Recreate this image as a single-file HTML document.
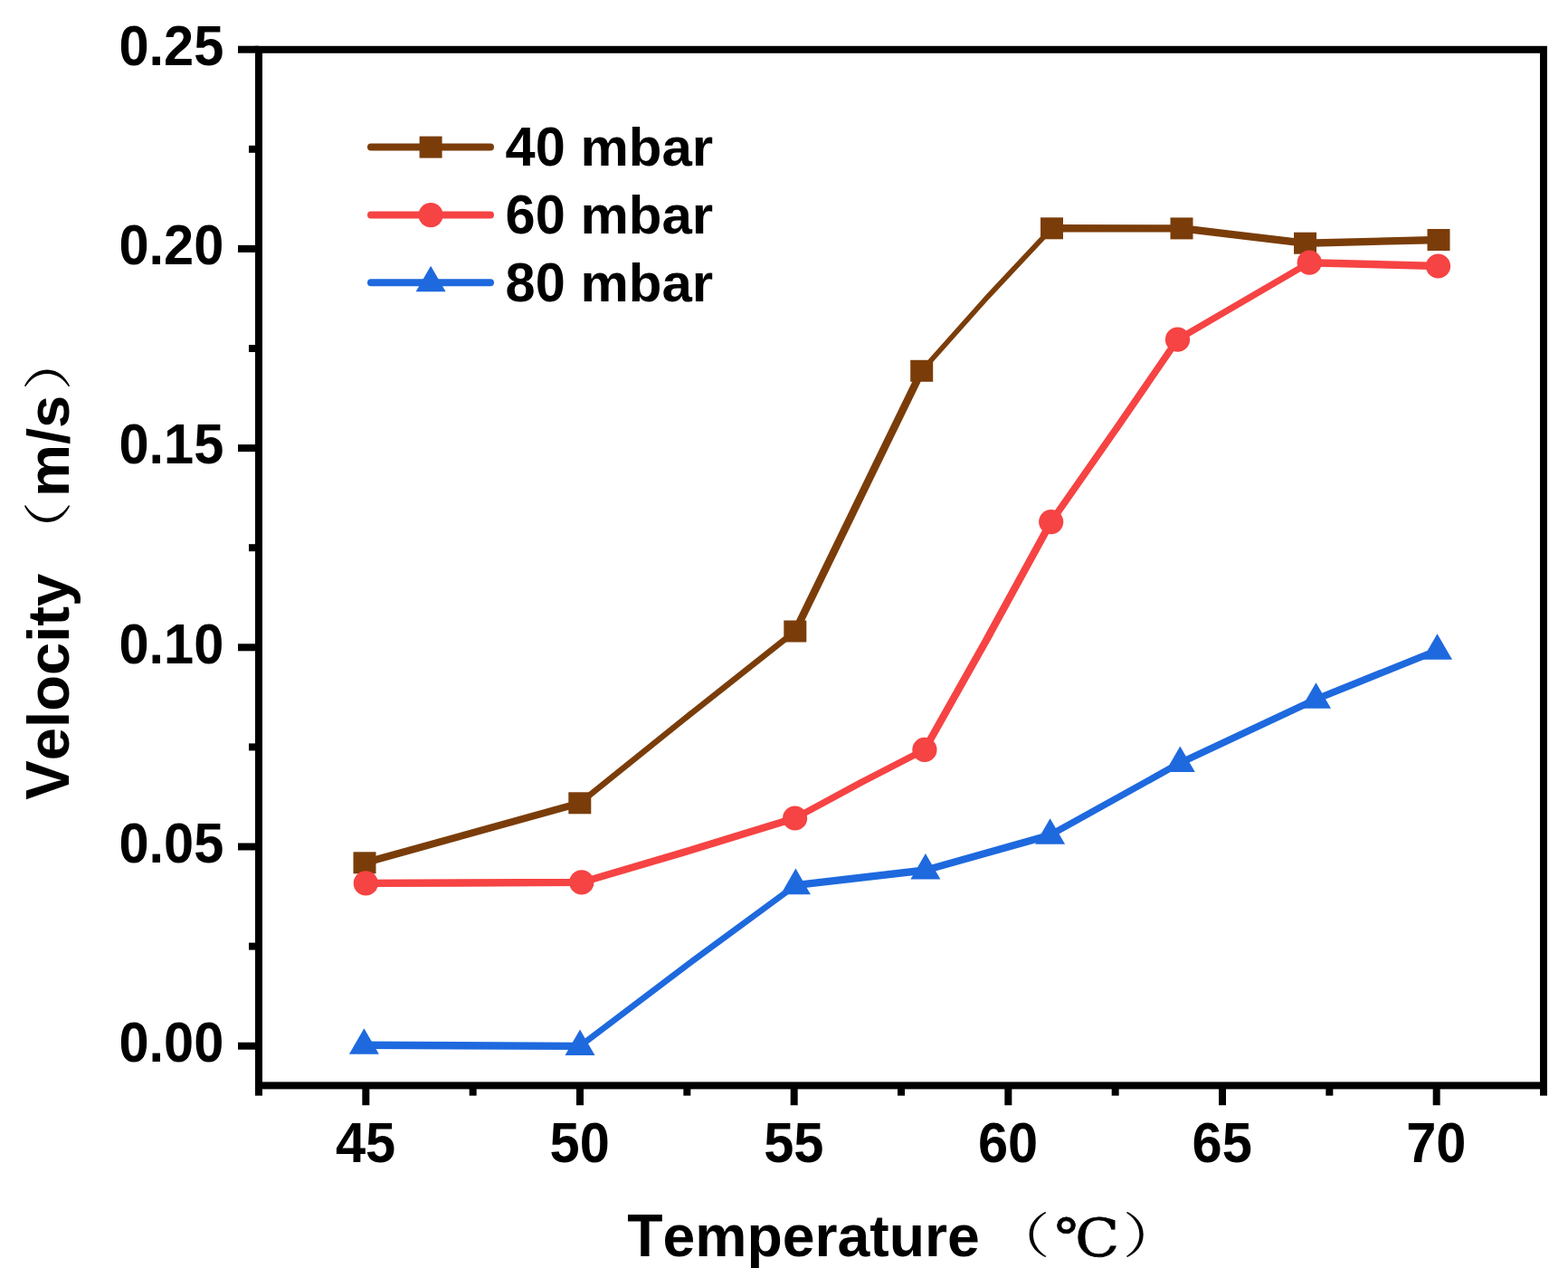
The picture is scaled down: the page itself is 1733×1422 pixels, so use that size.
<!DOCTYPE html>
<html lang="en">
<head>
<meta charset="utf-8">
<title>Velocity vs Temperature</title>
<style>
html,body{margin:0;padding:0;background:#fff;}
body{width:1733px;height:1422px;overflow:hidden;}
svg{display:block;}
text{font-family:"Liberation Sans",sans-serif;font-weight:bold;fill:#000;white-space:pre;}
.cjk{font-family:"Noto Serif CJK SC",serif;font-weight:400;}
.deg{font-family:"DejaVu Serif",serif;font-weight:400;stroke:#000;stroke-width:0.8px;}
</style>
</head>
<body>
<svg width="1733" height="1422" viewBox="0 0 1733 1422">
<rect x="0" y="0" width="1733" height="1422" fill="#ffffff"/>
<path fill="#7A3D0A" fill-rule="nonzero" d="M402.33 949.29 L641.47 882.91 L641.47 891.31 L402.33 957.69Z M640.25 883.54 L760.35 786.96 L760.35 795.36 L640.25 891.94Z M759.25 787.83 L879.35 692.87 L879.35 701.27 L759.25 796.23Z M873.79 698.13 L1014.31 409.17 L1023.71 409.17 L883.19 698.13Z M1018.23 406.12 L1091.07 324.33 L1091.07 332.73 L1018.23 414.52Z M1090.12 325.36 L1162.98 247.59 L1162.98 255.99 L1090.12 333.76Z M1161.8 248.1 L1306.7 248.2 L1306.7 256.6 L1161.8 256.5Z M1305.3 248.12 L1443.2 264.58 L1443.2 272.98 L1305.3 256.52Z M1441.8 264.52 L1590.7 260.78 L1590.7 269.18 L1441.8 272.92Z"/>
<path fill="#F64343" fill-rule="nonzero" d="M403.6 971.7 L643.5 970.7 L643.5 979.1 L403.6 980.1Z M642.13 970.9 L761.37 935.75 L761.37 944.15 L642.13 979.3Z M760.03 936.16 L879.27 899.59 L879.27 907.99 L760.03 944.56Z M877.98 900.13 L950.87 860.77 L950.87 869.17 L877.98 908.53Z M949.63 861.42 L1022.52 823.88 L1022.52 832.28 L949.63 869.82Z M1016.86 829.01 L1088.44 701.89 L1097.84 701.89 L1026.26 829.01Z M1087.76 703.11 L1157.34 575.99 L1166.74 575.99 L1097.16 703.11Z M1156.6 577.17 L1227.9 475.33 L1237.3 475.33 L1166 577.17Z M1227.1 476.48 L1297.2 374.62 L1306.6 374.62 L1236.5 476.48Z M1300.9 371.35 L1447.8 285.65 L1447.8 294.05 L1300.9 379.75Z M1446.5 285.98 L1590.2 289.82 L1590.2 298.22 L1446.5 294.38Z"/>
<path fill="#1E69DE" fill-rule="nonzero" d="M401.7 1150.5 L641.7 1151.7 L641.7 1160.1 L401.7 1158.9Z M640.44 1152.12 L760.76 1061.03 L760.76 1069.43 L640.44 1160.52Z M759.64 1061.86 L879.96 973.39 L879.96 981.79 L759.64 1070.26Z M878.7 973.88 L1023.6 957.12 L1023.6 965.52 L878.7 982.28Z M1022.23 957.39 L1161.27 918.31 L1161.27 926.71 L1022.23 965.79Z M1159.99 918.84 L1304.91 838.36 L1304.91 846.76 L1159.99 927.24Z M1303.67 839 L1455.13 768.1 L1455.13 776.5 L1303.67 847.4Z M1453.85 768.66 L1589.15 714.14 L1589.15 722.54 L1453.85 777.06Z"/>
<g>
<rect x="390.5" y="941.3" width="25" height="24" fill="#7A3D0A"/>
<rect x="628.3" y="875.3" width="25" height="24" fill="#7A3D0A"/>
<rect x="866.3" y="685.5" width="25" height="24" fill="#7A3D0A"/>
<rect x="1006.2" y="397.8" width="25" height="24" fill="#7A3D0A"/>
<rect x="1150" y="240.3" width="25" height="24" fill="#7A3D0A"/>
<rect x="1293.5" y="240.4" width="25" height="24" fill="#7A3D0A"/>
<rect x="1430" y="256.7" width="25" height="24" fill="#7A3D0A"/>
<rect x="1577.5" y="253" width="25" height="24" fill="#7A3D0A"/>
<circle cx="404.3" cy="975.9" r="13.6" fill="#F64343"/>
<circle cx="642.8" cy="974.9" r="13.6" fill="#F64343"/>
<circle cx="878.6" cy="904" r="13.6" fill="#F64343"/>
<circle cx="1021.9" cy="828.4" r="13.6" fill="#F64343"/>
<circle cx="1161.7" cy="576.6" r="13.6" fill="#F64343"/>
<circle cx="1301.5" cy="375.2" r="13.6" fill="#F64343"/>
<circle cx="1447.2" cy="290.2" r="13.6" fill="#F64343"/>
<circle cx="1589.5" cy="294" r="13.6" fill="#F64343"/>
<polygon points="402.4,1136.23 418.9,1164.83 385.9,1164.83" fill="#1E69DE"/>
<polygon points="641,1137.43 657.5,1166.03 624.5,1166.03" fill="#1E69DE"/>
<polygon points="879.4,959.53 895.9,988.13 862.9,988.13" fill="#1E69DE"/>
<polygon points="1022.9,942.93 1039.4,971.53 1006.4,971.53" fill="#1E69DE"/>
<polygon points="1160.6,904.23 1177.1,932.83 1144.1,932.83" fill="#1E69DE"/>
<polygon points="1304.3,824.43 1320.8,853.03 1287.8,853.03" fill="#1E69DE"/>
<polygon points="1454.5,754.13 1471,782.73 1438,782.73" fill="#1E69DE"/>
<polygon points="1588.5,700.13 1605,728.73 1572,728.73" fill="#1E69DE"/>
</g>
<g stroke="#000" fill="none" stroke-linecap="butt">
<rect x="286" y="54.8" width="1420" height="1144.6" stroke-width="8"/>
<line x1="263" y1="1155.7" x2="286" y2="1155.7" stroke-width="8"/>
<line x1="263" y1="935.5" x2="286" y2="935.5" stroke-width="8"/>
<line x1="263" y1="715.3" x2="286" y2="715.3" stroke-width="8"/>
<line x1="263" y1="495.1" x2="286" y2="495.1" stroke-width="8"/>
<line x1="263" y1="274.9" x2="286" y2="274.9" stroke-width="8"/>
<line x1="263" y1="54.7" x2="286" y2="54.7" stroke-width="8"/>
<line x1="275" y1="1045.6" x2="286" y2="1045.6" stroke-width="8"/>
<line x1="275" y1="825.4" x2="286" y2="825.4" stroke-width="8"/>
<line x1="275" y1="605.2" x2="286" y2="605.2" stroke-width="8"/>
<line x1="275" y1="385" x2="286" y2="385" stroke-width="8"/>
<line x1="275" y1="164.8" x2="286" y2="164.8" stroke-width="8"/>
<line x1="404.33" y1="1199.4" x2="404.33" y2="1221.2" stroke-width="8"/>
<line x1="641" y1="1199.4" x2="641" y2="1221.2" stroke-width="8"/>
<line x1="877.67" y1="1199.4" x2="877.67" y2="1221.2" stroke-width="8"/>
<line x1="1114.33" y1="1199.4" x2="1114.33" y2="1221.2" stroke-width="8"/>
<line x1="1351" y1="1199.4" x2="1351" y2="1221.2" stroke-width="8"/>
<line x1="1587.67" y1="1199.4" x2="1587.67" y2="1221.2" stroke-width="8"/>
<line x1="286" y1="1199.4" x2="286" y2="1210.6" stroke-width="8"/>
<line x1="522.67" y1="1199.4" x2="522.67" y2="1210.6" stroke-width="8"/>
<line x1="759.33" y1="1199.4" x2="759.33" y2="1210.6" stroke-width="8"/>
<line x1="996" y1="1199.4" x2="996" y2="1210.6" stroke-width="8"/>
<line x1="1232.67" y1="1199.4" x2="1232.67" y2="1210.6" stroke-width="8"/>
<line x1="1469.33" y1="1199.4" x2="1469.33" y2="1210.6" stroke-width="8"/>
<line x1="1706" y1="1199.4" x2="1706" y2="1210.6" stroke-width="8"/>
</g>
<g>
<text transform="translate(247.4 1172.9) scale(0.955 1)" font-size="62.4" text-anchor="end">0.00</text>
<text transform="translate(247.4 952.7) scale(0.955 1)" font-size="62.4" text-anchor="end">0.05</text>
<text transform="translate(247.4 732.5) scale(0.955 1)" font-size="62.4" text-anchor="end">0.10</text>
<text transform="translate(247.4 512.3) scale(0.955 1)" font-size="62.4" text-anchor="end">0.15</text>
<text transform="translate(247.4 292.1) scale(0.955 1)" font-size="62.4" text-anchor="end">0.20</text>
<text transform="translate(247.4 71.9) scale(0.955 1)" font-size="62.4" text-anchor="end">0.25</text>
</g>
<g>
<text transform="translate(404.03 1283.6) scale(0.955 1)" font-size="62.4" text-anchor="middle">45</text>
<text transform="translate(640.7 1283.6) scale(0.955 1)" font-size="62.4" text-anchor="middle">50</text>
<text transform="translate(877.37 1283.6) scale(0.955 1)" font-size="62.4" text-anchor="middle">55</text>
<text transform="translate(1114.03 1283.6) scale(0.955 1)" font-size="62.4" text-anchor="middle">60</text>
<text transform="translate(1350.7 1283.6) scale(0.955 1)" font-size="62.4" text-anchor="middle">65</text>
<text transform="translate(1587.37 1283.6) scale(0.955 1)" font-size="62.4" text-anchor="middle">70</text>
</g>
<text x="693.3" y="1388.3" font-size="64.3" xml:space="preserve"><tspan font-size="66.92" textLength="39.27" lengthAdjust="spacingAndGlyphs">T</tspan><tspan>emperature </tspan><tspan class="cjk" x="1094.8" y="1385.3" font-size="53.5" textLength="65.8" lengthAdjust="spacingAndGlyphs">（</tspan><tspan class="deg" x="1165.5" y="1388" font-size="58.3" textLength="71.6" lengthAdjust="spacingAndGlyphs">℃</tspan><tspan class="cjk" x="1240.8" y="1385.3" font-size="53.5" textLength="65.8" lengthAdjust="spacingAndGlyphs">）</tspan></text>
<text transform="translate(76 883.7) rotate(-90)" x="0" y="0" font-size="65.2" xml:space="preserve"><tspan font-size="67.85" textLength="43.49" lengthAdjust="spacingAndGlyphs">V</tspan><tspan>elocity </tspan><tspan class="cjk" x="263.9" y="-2.9" font-size="53.5" textLength="65.8" lengthAdjust="spacingAndGlyphs">（</tspan><tspan x="334.7" y="0">m/s</tspan><tspan class="cjk" x="452.2" y="-2.9" font-size="53.5" textLength="65.8" lengthAdjust="spacingAndGlyphs">）</tspan></text>
<g>
<line x1="410" y1="162.6" x2="542" y2="162.6" stroke="#7A3D0A" stroke-width="8" stroke-linecap="round"/>
<rect x="463.6" y="150.6" width="25" height="24" fill="#7A3D0A"/>
<text x="558.6" y="182.7" font-size="60" xml:space="preserve"><tspan font-size="61.8" textLength="66.2" lengthAdjust="spacingAndGlyphs">40</tspan><tspan> mbar</tspan></text>
<line x1="410" y1="237.6" x2="542" y2="237.6" stroke="#F64343" stroke-width="8" stroke-linecap="round"/>
<circle cx="476.1" cy="237.6" r="13.6" fill="#F64343"/>
<text x="558.6" y="257.7" font-size="60" xml:space="preserve"><tspan font-size="61.8" textLength="66.2" lengthAdjust="spacingAndGlyphs">60</tspan><tspan> mbar</tspan></text>
<line x1="410" y1="312.2" x2="542" y2="312.2" stroke="#1E69DE" stroke-width="8" stroke-linecap="round"/>
<polygon points="476.1,293.63 492.6,322.23 459.6,322.23" fill="#1E69DE"/>
<text x="558.6" y="332.8" font-size="60" xml:space="preserve"><tspan font-size="61.8" textLength="66.2" lengthAdjust="spacingAndGlyphs">80</tspan><tspan> mbar</tspan></text>
</g>
</svg>
</body>
</html>
